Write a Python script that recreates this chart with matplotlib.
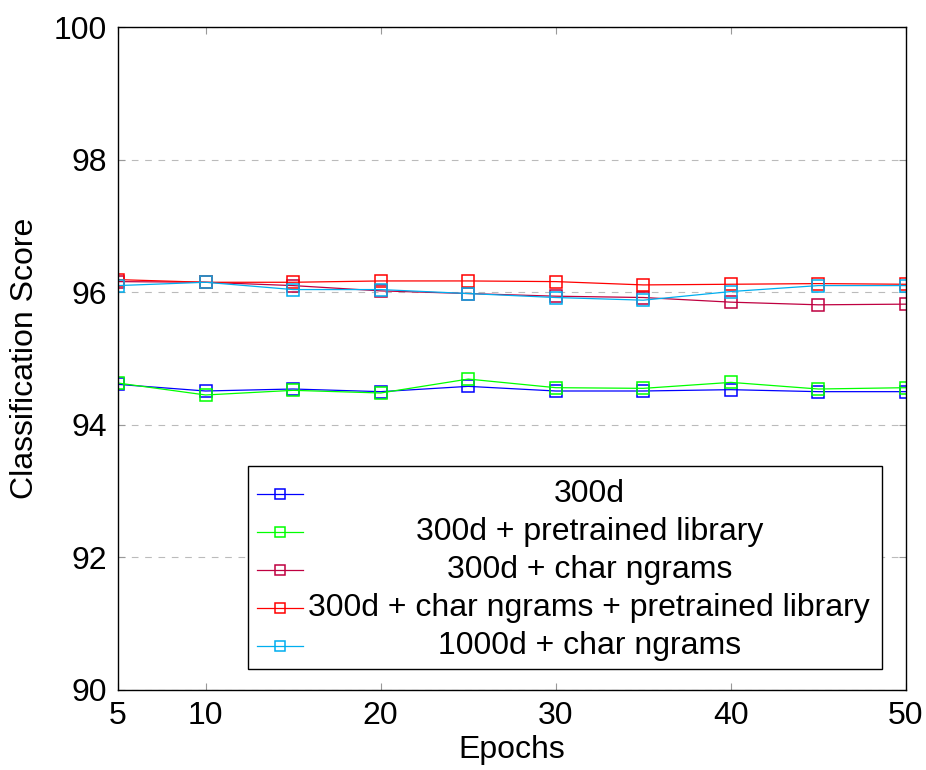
import matplotlib
matplotlib.use("Agg")
from matplotlib import pyplot as plt
from matplotlib.patches import Rectangle

plt.rcParams['font.family'] = ['Liberation Sans', 'DejaVu Sans']

epochs = [5, 10, 15, 20, 25, 30, 35, 40, 45, 50]
s300 = [94.61, 94.51, 94.54, 94.50, 94.58, 94.51, 94.51, 94.53, 94.50, 94.50]
s300_lib = [94.63, 94.45, 94.52, 94.48, 94.69, 94.56, 94.55, 94.64, 94.54, 94.56]
s300_char = [96.16, 96.15, 96.10, 96.02, 95.98, 95.94, 95.92, 95.85, 95.81, 95.82]
s300_char_lib = [96.19, 96.15, 96.15, 96.17, 96.17, 96.16, 96.11, 96.12, 96.13, 96.12]
s1000_char = [96.10, 96.15, 96.04, 96.04, 95.98, 95.92, 95.88, 96.01, 96.10, 96.10]

labels = ["300d", "300d + pretrained library", "300d + char ngrams",
          "300d + char ngrams + pretrained library", "1000d + char ngrams"]
series = [s300, s300_lib, s300_char, s300_char_lib, s1000_char]
colors = ["#0000ff", "#00ff00", "#bf0040", "#ff0000", "#00aeef"]

fig = plt.figure(figsize=(9.26, 7.70), dpi=100)
ax = fig.add_axes([0.1274, 0.1039, 0.851, 0.861])

for ys, c in zip(series, colors):
    ax.plot(epochs, ys, color=c, lw=0.9, marker="s", markersize=8,
            markerfacecolor="none", markeredgecolor=c, markeredgewidth=1.1)

ax.set_xlim(5, 50)
ax.set_ylim(90, 100)
ax.set_xticks([5, 10, 20, 30, 40, 50])
ax.set_yticks([90, 92, 94, 96, 98, 100])
ax.tick_params(direction="in", length=5, color="#999999", labelsize=23, pad=8,
               top=True, right=True)
ax.grid(axis="y", color="#bbbbbb", linestyle=(0, (6, 6)), lw=0.8)
for sp in ax.spines.values():
    sp.set_linewidth(1.0)
ax.set_xlabel("Epochs", fontsize=23, labelpad=3)
ax.set_ylabel("Classification Score", fontsize=23, labelpad=10)

# legend box drawn by hand with centred entries
ax.add_patch(Rectangle((0.165, 0.032), 0.805, 0.306, transform=ax.transAxes,
                       facecolor="white", edgecolor="black", lw=1.0, zorder=5))
rows = [0.2956, 0.2383, 0.181, 0.1237, 0.0664]
for lab, c, ry in zip(labels, colors, rows):
    ax.plot([0.1764, 0.2348], [ry, ry], transform=ax.transAxes, color=c, lw=0.9,
            zorder=6, clip_on=False)
    ax.plot([0.2056], [ry], transform=ax.transAxes, marker="s", markersize=7.5,
            markerfacecolor="none", markeredgecolor=c, markeredgewidth=1.1,
            zorder=6, clip_on=False)
    ax.text(0.598, ry, lab, transform=ax.transAxes, ha="center", va="center",
            fontsize=23, zorder=7)

fig.savefig("out.png", dpi=100)
